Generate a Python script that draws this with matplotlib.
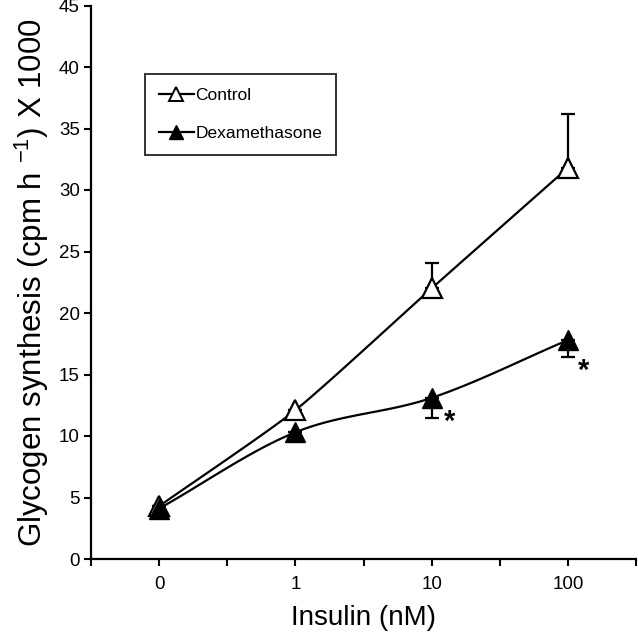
import numpy as np
import matplotlib
matplotlib.use("Agg")
import matplotlib.pyplot as plt

# ---- data ----
doses = ["0", "1", "10", "100"]
control_mean = [4.3, 12.1, 22.0, 31.8]
control_se = [0.0, 0.0, 2.1, 4.4]
dex_mean = [4.1, 10.3, 13.1, 17.8]
dex_se = [0.0, 0.0, 1.6, 1.4]
dex_sig = [False, False, True, True]

plt.rcParams['font.family'] = ['Liberation Sans', 'DejaVu Sans']
plt.rcParams['mathtext.fontset'] = 'custom'
plt.rcParams['mathtext.rm'] = 'Liberation Sans'

fig = plt.figure(figsize=(6.38, 6.40), dpi=100)
ax = fig.add_axes([91/638, 1-559/640, (636-91)/638, (559-5.5)/640])

xpos = np.arange(len(doses)) * 2 + 1


def smooth(x, y, n=40, t=0.5):
    """Catmull-Rom style smooth line through the given points."""
    x = np.asarray(x, float); y = np.asarray(y, float)
    px = np.concatenate([[2*x[0]-x[1]], x, [2*x[-1]-x[-2]]])
    py = np.concatenate([[2*y[0]-y[1]], y, [2*y[-1]-y[-2]]])
    xs, ys = [], []
    for i in range(1, len(px)-2):
        s = np.linspace(0, 1, n)
        h00 = 2*s**3 - 3*s**2 + 1
        h10 = s**3 - 2*s**2 + s
        h01 = -2*s**3 + 3*s**2
        h11 = s**3 - s**2
        mx0 = t*(px[i+1]-px[i-1]); mx1 = t*(px[i+2]-px[i])
        my0 = t*(py[i+1]-py[i-1]); my1 = t*(py[i+2]-py[i])
        xs.append(h00*px[i] + h10*mx0 + h01*px[i+1] + h11*mx1)
        ys.append(h00*py[i] + h10*my0 + h01*py[i+1] + h11*my1)
    return np.concatenate(xs), np.concatenate(ys)

lw = 1.6
# control
cx, cy = smooth(xpos, control_mean, t=0.3)
ax.plot(cx, cy, color='black', lw=lw, zorder=2)
ax.errorbar(xpos, control_mean, yerr=[np.zeros(4), control_se], fmt='none',
            ecolor='black', elinewidth=lw, capsize=5, capthick=lw, zorder=2)
ax.plot(xpos, control_mean, linestyle='none', marker='^', markersize=14,
        markerfacecolor='white', markeredgecolor='black', markeredgewidth=1.6, zorder=3)
# dex
dx, dy = smooth(xpos, dex_mean, t=0.5)
ax.plot(dx, dy, color='black', lw=lw, zorder=2)
ax.errorbar(xpos, dex_mean, yerr=[dex_se, np.zeros(4)], fmt='none',
            ecolor='black', elinewidth=lw, capsize=5, capthick=lw, zorder=2)
ax.plot(xpos, dex_mean, linestyle='none', marker='^', markersize=14,
        markerfacecolor='black', markeredgecolor='black', markeredgewidth=1.0, zorder=4)

star_offsets = [(0, 0), (0, 0), (13, -17), (11, -22)]
for xi, yi, sig, off in zip(xpos, dex_mean, dex_sig, star_offsets):
    if sig:
        ax.annotate('*', (xi, yi), xytext=off, textcoords='offset points',
                    ha='center', va='center', fontsize=21, fontweight='bold')

# legend handles
h1, = ax.plot([], [], color='black', lw=lw, marker='^', markersize=10,
              markerfacecolor='white', markeredgecolor='black', markeredgewidth=1.4)
h2, = ax.plot([], [], color='black', lw=lw, marker='^', markersize=10,
              markerfacecolor='black', markeredgecolor='black')
leg = ax.legend([h1, h2], ['Control', 'Dexamethasone'], loc='upper left',
                bbox_to_anchor=(145/638, 1-74/640), bbox_transform=fig.transFigure,
                fontsize=12.5, frameon=True, fancybox=False, edgecolor='black',
                handlelength=2.0, handletextpad=0.1, labelspacing=1.3,
                borderpad=0.8, borderaxespad=0)
leg.get_frame().set_linewidth(1.4)

ax.set_xlim(0, 8)
ax.set_ylim(0, 45)
ax.set_xticks(np.arange(0, 9))
ax.set_xticklabels(['' if i % 2 == 0 else doses[i // 2] for i in range(9)])
ax.set_yticks(np.arange(0, 46, 5))
ax.spines['top'].set_visible(False)
ax.spines['right'].set_visible(False)
for s in ['left', 'bottom']:
    ax.spines[s].set_linewidth(1.6)
ax.tick_params(axis='both', direction='out', length=5, width=1.5, labelsize=13.5)
ax.tick_params(axis='x', pad=7)
ax.tick_params(axis='y', pad=3)

ax.set_xlabel('Insulin (nM)', fontsize=20, labelpad=9)
ax.set_ylabel(r'Glycogen synthesis (cpm h $^{\mathregular{-1}}$) X 1000', fontsize=22.5, labelpad=6)

fig.savefig('out.png', dpi=100)
